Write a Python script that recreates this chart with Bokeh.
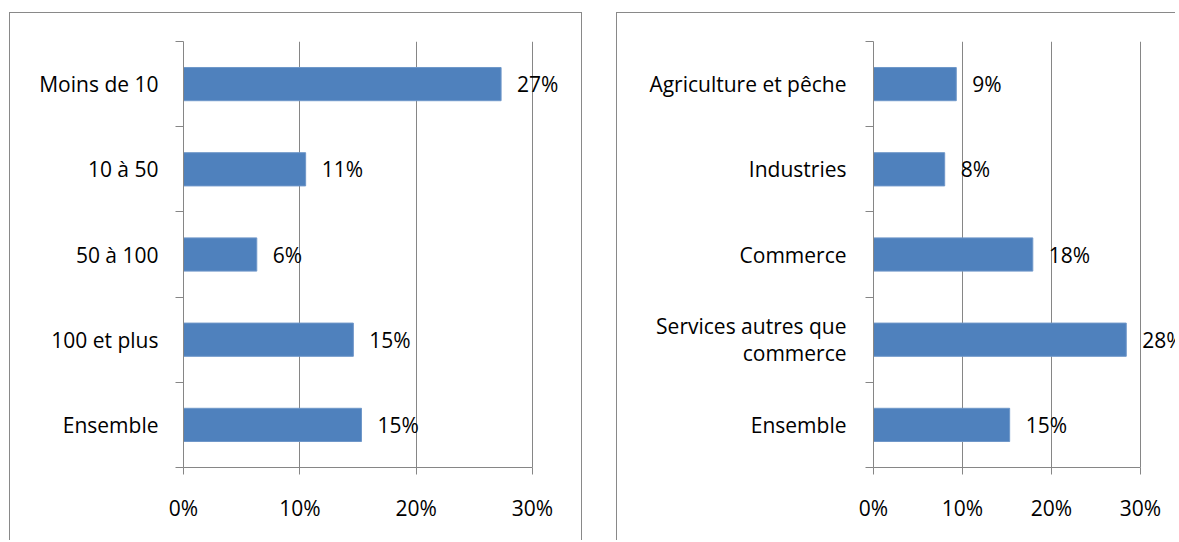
from bokeh.plotting import figure
from bokeh.models import FixedTicker, LabelSet, ColumnDataSource, Range1d
from bokeh.layouts import row
from bokeh.core.properties import value
from bokeh.embed import file_html
from bokeh.resources import INLINE

# ---- data ----
cats_left = ["Moins de 10", "10 à 50", "50 à 100", "100 et plus", "Ensemble"]
vals_left = [0.273, 0.105, 0.063, 0.146, 0.153]
labels_left = ["27%", "11%", "6%", "15%", "15%"]

cats_right = ["Agriculture et pêche", "Industries", "Commerce",
              "Services autres que\ncommerce", "Ensemble"]
vals_right = [0.093, 0.080, 0.179, 0.284, 0.153]
labels_right = ["9%", "8%", "18%", "28%", "15%"]

x_ticks = [0, 0.1, 0.2, 0.3]
x_tick_labels = ["0%", "10%", "20%", "30%"]

FONT = "Open Sans"
FSIZE = "21px"
GRAY = "#868686"
BAR = "#4F81BD"
BORDER = "1px solid #898989"


def make_panel(cats, vals, labels, width, mbl, axis_px, frame_px, standoff, styles):
    n = len(cats)
    centers = [n - 0.5 - i for i in range(n)]
    xmax = x_ticks[-1] * frame_px / axis_px   # room on the right for value labels
    height = 528
    p = figure(width=width, height=height,
               x_range=Range1d(0, xmax), y_range=Range1d(0, n),
               output_backend="svg", toolbar_location=None,
               min_border_left=mbl, min_border_right=width - mbl - frame_px,
               min_border_top=28, min_border_bottom=height - 28 - 426,
               background_fill_color="white", border_fill_color="white")
    p.outline_line_color = None
    p.styles = styles

    src = ColumnDataSource(dict(y=centers, v=vals, lab=labels))
    p.hbar(y="y", left=0, right="v", height=0.39, source=src,
           fill_color=BAR, line_color="#6f97c9", line_width=1)

    ls = LabelSet(x="v", y="y", text="lab", source=src, x_offset=16,
                  text_align="left", text_baseline="middle",
                  text_font=value(FONT), text_font_size=value(FSIZE),
                  text_color="black")
    p.add_layout(ls)

    # x axis
    xa = p.xaxis[0]
    xa.bounds = (x_ticks[0], x_ticks[-1])
    xa.ticker = FixedTicker(ticks=x_ticks)
    xa.major_label_overrides = dict(zip(x_ticks, x_tick_labels))
    xa.major_tick_out = 7
    xa.major_tick_in = 0
    xa.major_tick_line_color = GRAY
    xa.minor_tick_line_color = None
    xa.major_label_standoff = 19

    # y axis
    ya = p.yaxis[0]
    ya.ticker = FixedTicker(ticks=centers, minor_ticks=list(range(n + 1)))
    ya.major_label_overrides = dict(zip(centers, cats))
    ya.major_tick_line_color = None
    ya.major_tick_out = 0
    ya.minor_tick_out = 8
    ya.minor_tick_in = 0
    ya.minor_tick_line_color = GRAY
    ya.major_label_standoff = standoff
    ya.major_label_text_line_height = 0.95

    for ax in (xa, ya):
        ax.axis_line_color = GRAY
        ax.major_label_text_font = FONT
        ax.major_label_text_font_size = FSIZE
        ax.major_label_text_color = "black"

    p.xgrid.ticker = FixedTicker(ticks=x_ticks)
    p.xgrid.bounds = (x_ticks[0], x_ticks[-1])
    p.xgrid.grid_line_color = GRAY
    p.ygrid.grid_line_color = None
    return p


p1 = make_panel(cats_left, vals_left, labels_left, 573, 173, 349, 395, 17,
                {"border-top": BORDER, "border-left": BORDER,
                 "border-right": BORDER, "margin-top": "12px",
                 "margin-left": "9px"})
p2 = make_panel(cats_right, vals_right, labels_right, 559, 256, 267, 302, 19,
                {"border-top": BORDER, "border-left": BORDER,
                 "margin-top": "12px"})

layout = row(p1, p2, spacing=34)

open("out.html", "w").write(file_html(layout, INLINE))
